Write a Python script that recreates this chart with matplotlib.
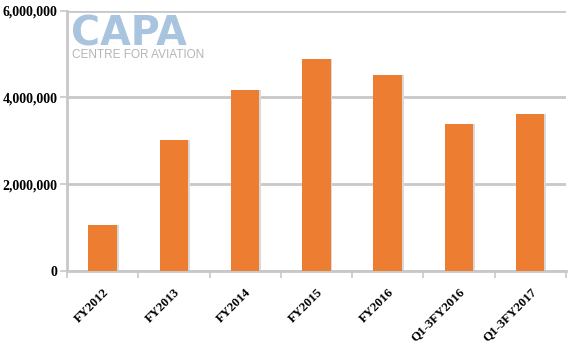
import matplotlib.pyplot as plt
from matplotlib.ticker import FuncFormatter, FixedLocator

categories = ['FY2012', 'FY2013', 'FY2014', 'FY2015', 'FY2016', 'Q1-3FY2016', 'Q1-3FY2017']
values = [1055000, 3020000, 4170000, 4890000, 4520000, 3380000, 3620000]
yticks = [0, 2000000, 4000000, 6000000]

bar_color = '#ED7D31'
grid_color = '#C8C8C8'

fig = plt.figure(figsize=(5.75, 3.46), dpi=100)
ax = fig.add_axes([0.1165, 0.2176, 0.8675, 0.7514])

x = list(range(len(categories)))
# soft shadow behind the bars
ax.bar([i + 0.025 for i in x], values, width=0.40, color='#D9D9D9', zorder=2)
ax.bar(x, values, width=0.40, color=bar_color, zorder=3)

ax.set_xlim(-0.5, len(categories) - 0.5)
ax.set_ylim(0, 6000000)
ax.set_yticks(yticks)
ax.yaxis.set_major_formatter(FuncFormatter(lambda v, p: f'{int(v):,}'))
ax.grid(axis='y', color=grid_color, linewidth=2, zorder=1)

for s in ['top', 'right']:
    ax.spines[s].set_visible(False)
for s in ['left', 'bottom']:
    ax.spines[s].set_color(grid_color)
    ax.spines[s].set_linewidth(2)

# category boundary ticks on x
ax.xaxis.set_major_locator(FixedLocator([i - 0.5 for i in range(len(categories) + 1)]))
ax.xaxis.set_major_formatter(FuncFormatter(lambda v, p: ''))
ax.tick_params(axis='x', which='major', length=5, width=1.2, color=grid_color)
ax.tick_params(axis='y', length=5, width=1.2, color=grid_color, pad=2)
for lab in ax.get_yticklabels():
    lab.set_fontfamily('Liberation Serif')
    lab.set_fontweight('bold')
    lab.set_fontsize(10)

for i, c in enumerate(categories):
    ax.annotate(c, xy=(i, 0), xycoords=('data', 'axes fraction'),
                xytext=(3, -14), textcoords='offset points',
                rotation=45, ha='right', va='center', rotation_mode='anchor',
                fontfamily='Liberation Serif', fontweight='bold', fontsize=9.3)

# CAPA watermark
fig.text(0.124, 1 - 46 / 346, 'CAPA', fontfamily='DejaVu Sans', fontweight='bold',
         fontsize=28.5, color='#A9C4DF', va='baseline', ha='left')
fig.text(0.126, 1 - 58.5 / 346, 'CENTRE FOR AVIATION', fontfamily='Liberation Sans',
         fontsize=8.5, color='#B5B5B5', va='baseline', ha='left')

fig.savefig('out.png', dpi=100)
